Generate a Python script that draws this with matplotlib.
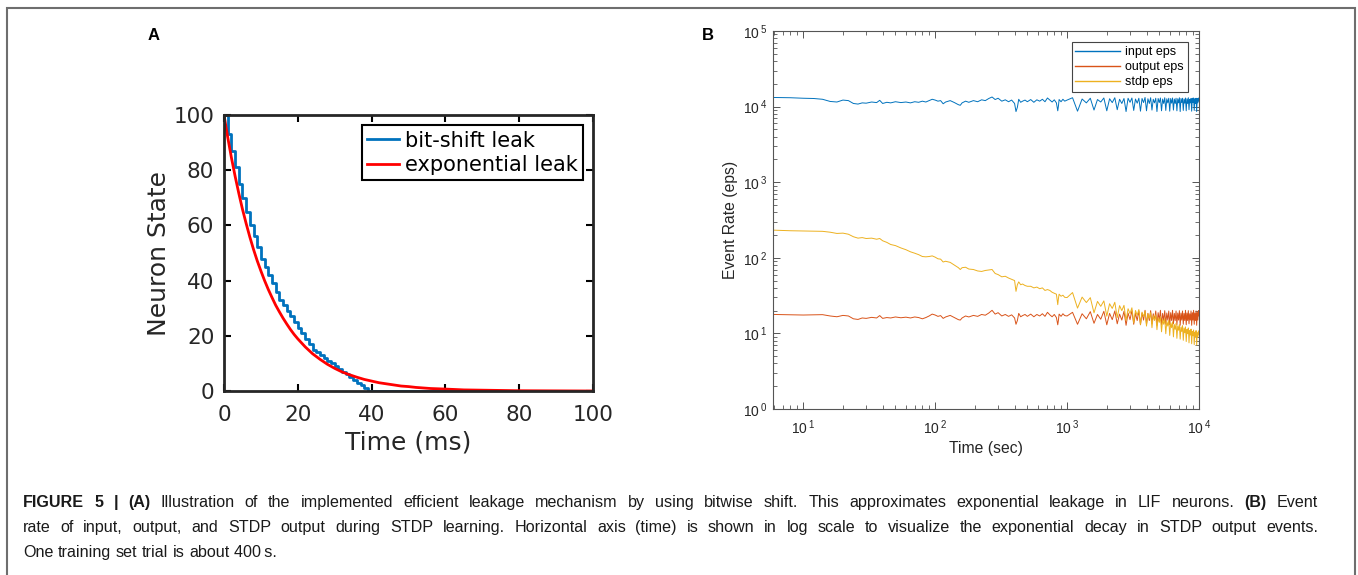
import matplotlib
matplotlib.use("Agg")
import matplotlib.pyplot as plt
from matplotlib.patches import Rectangle

# ---- panel A: leak of neuron state (ms) ----
t_step = [0, 1, 2, 3, 4, 5, 6, 7, 8, 9, 10, 11, 12, 13, 14, 15, 16, 17, 18, 19,
          20, 21, 22, 23, 24, 25, 26, 27, 28, 29, 30, 31, 32, 33, 34, 35, 36, 37, 38, 39, 100]
bit_shift = [100, 93, 87, 81, 75, 70, 65, 60, 56, 52, 48, 45, 42, 39, 36, 33, 31, 29, 27, 25,
             23, 21, 19, 17, 15, 14, 13, 12, 11, 10, 9, 8, 7, 6, 5, 4, 3, 2, 1, 0, 0]

t_exp = [0, 1, 2, 3, 4, 5, 6, 7, 8, 9, 10, 11, 12, 13, 14, 15, 16, 17, 18, 19, 20,
         22, 24, 26, 28, 30, 32, 34, 36, 38, 40, 42, 44, 46, 48, 50, 52, 54, 56, 58, 60,
         65, 70, 75, 80, 90, 100]
exp_leak = [100, 92.0, 84.6, 77.9, 71.7, 65.9, 60.7, 55.8, 51.3, 47.2, 43.5, 40.0, 36.8, 33.9,
            31.1, 28.7, 26.4, 24.3, 22.3, 20.5, 18.9,
            16.0, 13.5, 11.5, 9.7, 8.2, 6.9, 5.9, 5.0, 4.2, 3.6, 3.0, 2.6, 2.2, 1.8, 1.6, 1.3,
            1.1, 0.9, 0.8, 0.7,
            0.4, 0.3, 0.2, 0.1, 0.05, 0.0]

# ---- panel B: event rates (eps) vs time (sec) ----
t_early = [6, 8, 10, 12, 14, 16, 18, 20, 22, 24,
           26, 28, 30, 33, 36, 38, 40, 43, 46, 50,
           55, 60, 65, 70, 75, 80, 85, 90, 95, 100,
           105, 110, 115, 120, 130, 140, 150, 155, 160, 170,
           180, 195, 210, 225, 240, 255, 270, 285, 300, 320,
           340, 360, 380, 400, 410, 420, 430, 445, 460, 480,
           500, 530, 560, 590, 620, 650, 680, 710, 740, 770,
           800, 830, 850, 860, 870, 900, 930, 960]
t_late = list(range(1000, 10001, 100))
t_sec = t_early + t_late

input_eps = [13200, 13100, 12900, 12800, 12500, 11700, 11500, 12200, 12000, 11000,
             10800, 11200, 11100, 11500, 11300, 12100, 11000, 11400, 11200, 11600,
             11300, 11500, 11200, 11600, 11400, 11800, 11500, 12000, 12500, 12200,
             11800, 12000, 10900, 11500, 12000, 11300, 10600, 10400, 11200, 11800,
             11400, 12000, 11600, 12300, 12000, 12800, 13400, 12400, 12900, 11800,
             12300, 11600, 12200, 11000, 8600, 9800, 12500, 11400, 11800, 12200,
             11600, 12400, 11400, 12300, 11800, 12500, 11600, 13000, 12200, 11500,
             12300, 11200, 8800, 10200, 12400, 11600, 12500, 11800,
             12200, 13100, 8700, 12600, 11200, 12900, 9000, 12400, 11500, 13000,
             8800, 12700, 11300, 13100, 9100, 12500, 11000, 12800, 8600, 12900,
             11400, 13000, 8900, 12600, 11100, 12900, 8700, 12800, 11300, 13200,
             8800, 12700, 11000, 13100, 9000, 12500, 11200, 12900, 8600, 12800,
             11300, 13000, 8800, 12600, 11000, 13100, 8900, 12700, 11200, 12900,
             8700, 12800, 11100, 13000, 9000, 12600, 11000, 12900, 8800, 12700,
             11200, 13100, 8600, 12800, 11300, 12900, 8900, 12600, 11100, 13000,
             8800, 12700, 11000, 13100, 9100, 12500, 11200, 12800, 8700, 12900,
             11300, 13000, 8900, 12700, 11000, 12900, 8600, 12800, 11200, 13000,
             11800]

output_eps = [17.8, 17.6, 17.5, 17.6, 17.7, 17.0, 16.6, 17.3, 17.0, 15.6,
              15.3, 16.0, 15.8, 16.3, 16.0, 17.2, 15.8, 16.2, 16.0, 16.5,
              16.1, 16.4, 16.0, 16.5, 16.2, 15.6, 16.2, 17.0, 18.0, 17.5,
              16.8, 17.2, 15.8, 16.5, 17.3, 16.2, 15.2, 15.0, 16.0, 17.0,
              16.5, 17.3, 16.8, 17.8, 17.4, 18.6, 20.2, 18.0, 18.8, 17.0,
              17.8, 16.8, 17.6, 16.0, 13.2, 14.8, 18.4, 16.6, 17.2, 17.8,
              16.8, 18.0, 16.6, 17.8, 17.0, 18.2, 16.8, 19.0, 17.6, 16.6,
              17.8, 16.2, 13.0, 15.0, 18.0, 16.8, 18.2, 17.2,
              17.0, 19.0, 13.2, 18.2, 15.6, 19.4, 13.6, 17.8, 15.4, 19.6,
              13.0, 18.4, 15.2, 19.8, 13.4, 18.0, 15.0, 19.6, 12.8, 18.6,
              15.2, 20.0, 13.2, 18.4, 14.8, 19.8, 13.0, 18.6, 15.0, 20.2,
              13.2, 18.4, 14.8, 20.0, 13.4, 18.2, 15.0, 19.8, 12.8, 18.8,
              15.0, 20.2, 13.0, 18.4, 14.8, 20.0, 13.2, 18.6, 15.0, 19.8,
              13.0, 18.8, 14.8, 20.2, 13.4, 18.4, 14.8, 19.8, 13.0, 18.6,
              15.0, 20.0, 12.8, 18.6, 15.0, 19.8, 13.2, 18.4, 14.8, 20.2,
              13.0, 18.6, 14.8, 20.0, 13.4, 18.2, 15.0, 19.8, 12.8, 18.8,
              15.0, 20.2, 13.2, 18.6, 14.8, 19.8, 12.8, 18.8, 15.0, 20.0,
              17.0]

stdp_eps = [232, 228, 226, 225, 224, 218, 210, 212, 205, 190,
            182, 185, 180, 182, 176, 180, 168, 160, 150, 145,
            135, 128, 120, 115, 110, 104, 103, 104, 106, 102,
            97, 96, 88, 90, 87, 80, 74, 70, 74, 75,
            71, 70, 67, 66, 68, 69, 70, 62, 60, 56,
            57, 54, 52, 50, 36, 44, 48, 44, 45, 43,
            42, 42, 40, 41, 39, 40, 37, 38, 37, 35,
            34, 33, 24, 29, 33, 31, 32, 30,
            29.8, 34.7, 21.6, 30.2, 25.6, 29.7, 18.7, 26.5, 22.8, 26.9,
            16.9, 24.7, 21.4, 25.8, 16.2, 23.3, 20.0, 23.5, 14.8, 21.2,
            18.3, 21.8, 13.8, 20.1, 17.4, 20.7, 13.1, 19.1, 16.6, 19.7,
            12.5, 18.2, 15.8, 18.8, 11.9, 17.2, 14.9, 17.6, 11.2, 16.1,
            14.0, 16.6, 10.5, 15.3, 13.2, 15.7, 9.9, 14.4, 12.5, 14.9,
            9.4, 13.8, 11.9, 14.2, 9.0, 13.1, 11.3, 13.6, 8.6, 12.6,
            11.0, 13.1, 8.4, 12.2, 10.6, 12.7, 8.1, 11.8, 10.2, 12.2,
            7.8, 11.3, 9.9, 11.8, 7.5, 10.9, 9.5, 11.4, 7.3, 10.6,
            9.3, 11.1, 7.1, 10.4, 9.1, 10.9, 7.0, 10.2, 8.9, 10.8,
            9.6]

x_ticks_b = [10, 100, 1000, 10000]
y_ticks_b = [1, 10, 100, 1000, 10000, 100000]

# caption: (text, weight) runs per line; the first two lines are justified
caption_lines = [
    [("FIGURE 5 | (A)", "bold"),
     ("Illustration of the implemented efficient leakage mechanism by using bitwise shift. "
      "This approximates exponential leakage in LIF neurons.", "normal"),
     ("(B)", "bold"), ("Event", "normal")],
    [("rate of input, output, and STDP output during STDP learning. Horizontal axis (time) "
      "is shown in log scale to visualize the exponential decay in STDP output events.", "normal")],
    [("One training set trial is about 400\u2009s.", "normal")],
]
caption_justify = [True, True, False]

SANS = ["Liberation Sans", "DejaVu Sans"]
W, H = 1358, 575
CAP_SIZE = 11.6

fig = plt.figure(figsize=(W / 100, H / 100), dpi=100)
fig.patch.set_facecolor("white")

# outer frame of the figure
fig.add_artist(Rectangle((7 / W, -0.1), 1348 / W, 1 - 8 / H + 0.1, transform=fig.transFigure,
                         fill=False, edgecolor="#6e6e6e", lw=1.5, clip_on=False))

# ---- panel A ----
ax_a = fig.add_axes([224 / W, 1 - 391 / H, 369 / W, 276 / H])
ax_a.step(t_step, bit_shift, where="post", color="#0072BD", lw=2, label="bit-shift leak")
ax_a.plot(t_exp, exp_leak, color="red", lw=2, label="exponential leak")
ax_a.set_xlim(0, 100)
ax_a.set_ylim(0, 100)
ax_a.set_xticks([0, 20, 40, 60, 80, 100])
ax_a.set_yticks([0, 20, 40, 60, 80, 100])
ax_a.tick_params(direction="in", top=True, right=True, length=5, width=1.5,
                 labelsize=15.5, labelcolor="#262626")
ax_a.tick_params(axis="x", pad=10)
ax_a.tick_params(axis="y", pad=7)
for s in ax_a.spines.values():
    s.set_linewidth(2)
    s.set_color("#262626")
ax_a.set_xlabel("Time (ms)", fontsize=18, color="#262626", labelpad=4)
ax_a.set_ylabel("Neuron State", fontsize=18, color="#262626", labelpad=2)
leg_a = ax_a.legend(loc="upper right", fontsize=15, fancybox=False, framealpha=1,
                    edgecolor="black", borderaxespad=0.5, handlelength=1.55,
                    handletextpad=0.25, borderpad=0.25, labelspacing=0.2)
leg_a.get_frame().set_linewidth(1.5)

# ---- panel B ----
ax_b = fig.add_axes([773 / W, 1 - 409 / H, 426 / W, 378 / H])
ax_b.plot(t_sec, input_eps, color="#0072BD", lw=0.7, label="input eps")
ax_b.plot(t_sec, output_eps, color="#D95319", lw=0.7, label="output eps")
ax_b.plot(t_sec, stdp_eps, color="#EDB120", lw=0.7, label="stdp eps")
ax_b.set_xscale("log")
ax_b.set_yscale("log")
ax_b.set_xlim(5.9, 1e4)
ax_b.set_ylim(1, 1e5)
ax_b.set_xticks(x_ticks_b)
ax_b.set_xticklabels([r"$\mathregular{10^{\,%d}}$" % len(str(v)[1:]) for v in x_ticks_b],
                     family=SANS)
ax_b.set_yticks(y_ticks_b)
ax_b.set_yticklabels([r"$\mathregular{10^{\,%d}}$" % len(str(v)[1:]) for v in y_ticks_b],
                     family=SANS)
ax_b.tick_params(which="both", direction="in", top=True, right=True, colors="#555555",
                 labelcolor="#262626", labelsize=10)
ax_b.tick_params(which="major", length=5, width=0.7)
ax_b.tick_params(which="minor", length=3, width=0.6)
ax_b.tick_params(axis="x", pad=7)
ax_b.tick_params(axis="y", pad=4)
for s in ax_b.spines.values():
    s.set_linewidth(0.8)
    s.set_color("#555555")
ax_b.set_xlabel("Time (sec)", fontsize=11.3, family=SANS, color="#262626", labelpad=3)
ax_b.set_ylabel("Event Rate (eps)", fontsize=11.3, family=SANS, color="#262626", labelpad=4)
leg_b = ax_b.legend(loc="upper right", prop={"family": SANS, "size": 9}, fancybox=False,
                    framealpha=1, edgecolor="#444444", borderaxespad=0.9, handlelength=3.6,
                    handletextpad=0.4, borderpad=0.3, labelspacing=0.25)
leg_b.get_frame().set_linewidth(0.8)
for line in leg_b.get_lines():
    line.set_linewidth(1.0)

# panel letters
fig.text(148 / W, 1 - 35 / H, "A", family=SANS, weight="bold", fontsize=12, va="center")
fig.text(702 / W, 1 - 35 / H, "B", family=SANS, weight="bold", fontsize=12, va="center")

# caption: words placed one by one so full lines can be justified
renderer = fig.canvas.get_renderer()


def text_width(s, weight="normal"):
    t = fig.text(0, 0, s, family=SANS, weight=weight, fontsize=CAP_SIZE)
    w = t.get_window_extent(renderer).width
    t.remove()
    return w


space = text_width("a a") - text_width("aa")
left_px, right_px = 23, 1318
baselines = [507, 532, 557]
for runs, y, justify in zip(caption_lines, baselines, caption_justify):
    words = [(w, weight) for text, weight in runs for w in text.split(" ")]
    items = []
    for w, weight in words:
        t = fig.text(0, 1 - y / H, w, family=SANS, weight=weight, fontsize=CAP_SIZE,
                     color="#1a1a1a", va="baseline")
        items.append((t, t.get_window_extent(renderer).width))
    total = sum(wd for _, wd in items)
    gap = (right_px - left_px - total) / (len(items) - 1) if justify else space
    x = left_px
    for t, wd in items:
        t.set_x(x / W)
        x += wd + gap

fig.savefig("out.png", dpi=100)
